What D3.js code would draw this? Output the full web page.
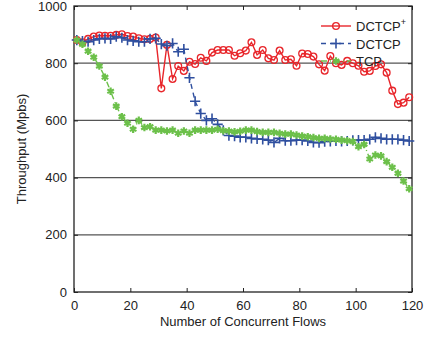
<!DOCTYPE html>
<html>
<head>
<meta charset="utf-8">
<script src="https://cdn.jsdelivr.net/npm/d3@7"></script>
<style>
  body { margin: 0; background: #fff; }
  svg text { font-family: "Liberation Sans", Arial, sans-serif; fill: #222; }
</style>
</head>
<body>
<div id="chart"></div>
<script>
// number of concurrent flows (x positions of the markers)
var flows = [1, 3, 5, 7, 9, 11, 13, 15, 17, 19, 21, 23, 25, 27, 29, 31, 33, 35, 37, 39,
  41, 43, 45, 47, 49, 51, 53, 55, 57, 59, 61, 63, 65, 67, 69, 71, 73, 75, 77, 79,
  81, 83, 85, 87, 89, 91, 93, 95, 97, 99, 101, 103, 105, 107, 109, 111, 113, 115, 117, 119];

// throughput (Mbps) per series
var dctcpPlus = [881, 873, 885, 893, 897, 896, 896, 899, 901, 895, 893, 887, 884, 885, 890,
  712, 864, 745, 790, 773, 805, 797, 819, 808, 837, 846, 846, 846, 826, 835, 844,
  873, 829, 846, 817, 811, 844, 811, 814, 791, 834, 832, 823, 796, 774, 825, 800,
  794, 808, 800, 791, 770, 773, 790, 796, 767, 704, 657, 662, 681];

var dctcp = [881, 877, 875, 881, 885, 887, 885, 893, 889, 881, 878, 875, 875,
  885, 887, 867, 861, 869, 840, 849, 749, 667, 624, 600, 606, 586,
  565, 547, 545, 541, 541, 537, 535, 534, 531, 523, 537, 529, 529, 531, 531, 528,
  523, 522, 526, 527, 528, 527, 528, 530, 531, 531, 534, 541, 537, 534, 534, 534, 531, 528];

var tcp = [881, 866, 842, 821, 790, 751, 702, 650, 613, 590, 569, 600, 575, 578, 566,
  566, 563, 566, 555, 563, 555, 566, 566, 566, 566, 569, 564, 563, 560, 562, 566,
  566, 561, 558, 558, 558, 555, 552, 552, 549, 545, 543, 540, 537, 537, 535, 534,
  531, 529, 526, 508, 516, 465, 479, 476, 456, 436, 415, 388, 361];

var xTicks = [0, 20, 40, 60, 80, 100, 120];
var yTicks = [0, 200, 400, 600, 800, 1000];
var gridValues = [200, 400, 600, 800];

var width = 439, height = 339;
var margin = { top: 6, right: 27, bottom: 47, left: 74 };
var w = width - margin.left - margin.right;
var h = height - margin.top - margin.bottom;

var svg = d3.select("#chart").append("svg")
  .attr("width", width)
  .attr("height", height);

var g = svg.append("g")
  .attr("transform", "translate(" + margin.left + "," + margin.top + ")");

var x = d3.scaleLinear().domain([0, 120]).range([0, w]);
var y = d3.scaleLinear().domain([0, 1000]).range([h, 0]);

// horizontal grid
g.selectAll(".grid")
  .data(gridValues)
  .enter().append("line")
  .attr("x1", 0).attr("x2", w)
  .attr("y1", function (d) { return y(d); })
  .attr("y2", function (d) { return y(d); })
  .attr("stroke", "#555")
  .attr("stroke-width", 1.2);

// axes, ticks pointing inward
function styleAxis(sel) {
  sel.selectAll("text").style("font-size", "13px").attr("fill", "#222");
  sel.selectAll("line").attr("stroke", "#222");
  sel.select(".domain").remove();
}

g.append("g")
  .attr("transform", "translate(0," + h + ")")
  .call(d3.axisBottom(x).tickValues(xTicks).tickSizeInner(-4).tickSizeOuter(0).tickPadding(9))
  .call(styleAxis);

g.append("g")
  .call(d3.axisTop(x).tickValues(xTicks).tickSizeInner(-4).tickSizeOuter(0).tickFormat(""))
  .call(styleAxis);

g.append("g")
  .call(d3.axisLeft(y).tickValues(yTicks).tickSizeInner(-4).tickSizeOuter(0)
    .tickPadding(7).tickFormat(d3.format("d")))
  .call(styleAxis);

g.append("g")
  .attr("transform", "translate(" + w + ",0)")
  .call(d3.axisRight(y).tickValues(yTicks).tickSizeInner(-4).tickSizeOuter(0).tickFormat(""))
  .call(styleAxis);

// frame
g.append("rect")
  .attr("width", w).attr("height", h)
  .attr("fill", "none")
  .attr("stroke", "#222")
  .attr("stroke-width", 1.3);

var series = [
  { name: "DCTCP", sup: "+", values: dctcpPlus, color: "#e8262b", dash: null, marker: "circle" },
  { name: "DCTCP", sup: "", values: dctcp, color: "#2f4f9f", dash: "5,4", marker: "plus" },
  { name: "TCP", sup: "", values: tcp, color: "#6cc04a", dash: "6,3,1,3", marker: "star" }
];

var line = d3.line()
  .x(function (d) { return x(d.x); })
  .y(function (d) { return y(d.y); });

var plus = d3.symbol().type(d3.symbolPlus).size(36);
var star = d3.symbol().type(d3.symbolAsterisk).size(40);

function drawMarker(sel, s) {
  if (s.marker === "circle") {
    sel.append("circle").attr("r", 3.4)
      .attr("fill", "none").attr("stroke", s.color).attr("stroke-width", 1.3);
  } else if (s.marker === "plus") {
    sel.append("path").attr("d", plus)
      .attr("fill", "none").attr("stroke", s.color).attr("stroke-width", 1.6);
  } else {
    sel.append("path").attr("d", star)
      .attr("fill", "none").attr("stroke", s.color).attr("stroke-width", 2.2);
  }
}

series.forEach(function (s) {
  var pts = flows.map(function (f, i) { return { x: f, y: s.values[i] }; });
  g.append("path")
    .datum(pts)
    .attr("d", line)
    .attr("fill", "none")
    .attr("stroke", s.color)
    .attr("stroke-width", 1.4)
    .attr("stroke-dasharray", s.dash);

  g.selectAll(".m-" + s.marker)
    .data(pts)
    .enter().append("g")
    .attr("class", "m-" + s.marker)
    .attr("transform", function (d) { return "translate(" + x(d.x) + "," + y(d.y) + ")"; })
    .each(function () { drawMarker(d3.select(this), s); });
});

// legend
var legend = g.append("g").attr("transform", "translate(247,20)");
series.forEach(function (s, i) {
  var row = legend.append("g").attr("transform", "translate(0," + (i * 17.5) + ")");
  row.append("line")
    .attr("x1", 0).attr("x2", 30)
    .attr("stroke", s.color).attr("stroke-width", 1.4)
    .attr("stroke-dasharray", s.dash);
  drawMarker(row.append("g").attr("transform", "translate(15,0)"), s);
  var t = row.append("text")
    .attr("x", 35).attr("y", 5)
    .style("font-size", "13px");
  t.append("tspan").text(s.name);
  if (s.sup) {
    t.append("tspan").attr("dy", -6).style("font-size", "9px").text(s.sup);
  }
});

// axis titles
svg.append("text")
  .attr("x", margin.left + w / 2)
  .attr("y", 326)
  .attr("text-anchor", "middle")
  .style("font-size", "13px")
  .text("Number of Concurrent Flows");

svg.append("text")
  .attr("transform", "translate(26," + (margin.top + h / 2) + ") rotate(-90)")
  .attr("text-anchor", "middle")
  .style("font-size", "13px")
  .text("Throughput (Mpbs)");
</script>
</body>
</html>
